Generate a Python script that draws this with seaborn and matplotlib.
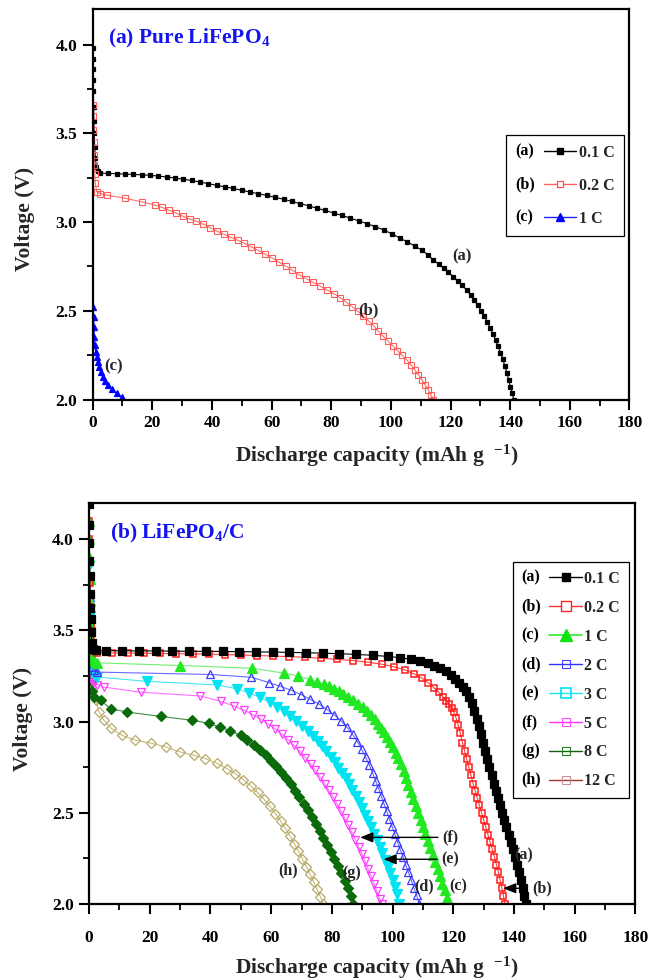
import matplotlib
matplotlib.use("Agg")
import matplotlib.pyplot as plt
import seaborn as sns
import pandas as pd
from matplotlib.ticker import MultipleLocator, FormatStrFormatter
from matplotlib.lines import Line2D
from matplotlib.legend_handler import HandlerLine2D
from matplotlib.text import Text

# ---------------- data (capacity mAh/g, voltage V) ----------------
# Panel (a): pure LiFePO4
top_01C = [(0.0, 3.98), (0.05, 3.92), (0.1, 3.86), (0.15, 3.80), (0.2, 3.74), (0.3, 3.65), (0.4, 3.57),
           (0.5, 3.50), (0.7, 3.42), (0.9, 3.36), (1.2, 3.31), (1.7, 3.285), (2.4, 3.276), (5.2, 3.274),
           (8.0, 3.272), (10.8, 3.270), (13.6, 3.268), (16.4, 3.266), (19.2, 3.263), (22.0, 3.259),
           (24.8, 3.254), (27.6, 3.248), (30.4, 3.241), (33.2, 3.234), (36.0, 3.225), (38.8, 3.216),
           (41.6, 3.207), (44.4, 3.198), (47.2, 3.189), (50.0, 3.179), (52.8, 3.169), (55.6, 3.159),
           (58.4, 3.150), (61.2, 3.139), (64.0, 3.128), (66.8, 3.116), (69.6, 3.104), (72.4, 3.091),
           (75.2, 3.078), (78.0, 3.065), (80.8, 3.051), (83.6, 3.037), (86.4, 3.022), (89.2, 3.007),
           (92.0, 2.991), (94.8, 2.974), (97.6, 2.955), (100.4, 2.933), (103.0, 2.910), (105.5, 2.888),
           (108.0, 2.866), (110.3, 2.842), (112.4, 2.816), (114.2, 2.786), (116.0, 2.763), (117.7, 2.740),
           (119.3, 2.716), (120.9, 2.692), (122.4, 2.668), (123.9, 2.643), (125.4, 2.617), (126.7, 2.590),
           (128.0, 2.560), (129.2, 2.530), (130.3, 2.500), (131.3, 2.470), (132.3, 2.438), (133.3, 2.404),
           (134.2, 2.370), (135.1, 2.335), (135.9, 2.300), (136.7, 2.265), (137.5, 2.228), (138.2, 2.190),
           (138.9, 2.150), (139.5, 2.110), (140.1, 2.070), (140.7, 2.035), (141.2, 2.0)]
top_02C = [(0.0, 3.66), (0.1, 3.60), (0.2, 3.52), (0.3, 3.45), (0.4, 3.38), (0.5, 3.32), (0.7, 3.27),
           (0.9, 3.22), (1.3, 3.171), (2.4, 3.160), (4.7, 3.152), (10.8, 3.134), (16.4, 3.114), (20.9, 3.096),
           (23.3, 3.082), (25.6, 3.067), (27.9, 3.051), (30.2, 3.033), (32.5, 3.017), (34.8, 3.004),
           (37.1, 2.988), (39.4, 2.968), (41.7, 2.948), (44.0, 2.931), (46.3, 2.914), (48.6, 2.898),
           (50.9, 2.880), (53.2, 2.860), (55.5, 2.840), (57.8, 2.820), (60.1, 2.798), (62.4, 2.775),
           (64.7, 2.752), (67.0, 2.727), (69.3, 2.703), (71.6, 2.681), (73.9, 2.660), (76.2, 2.639),
           (78.5, 2.619), (80.8, 2.597), (83.0, 2.573), (85.1, 2.548), (87.1, 2.522), (89.0, 2.496),
           (90.8, 2.470), (92.5, 2.443), (94.2, 2.415), (95.8, 2.386), (97.4, 2.357), (99.0, 2.330),
           (100.6, 2.303), (102.2, 2.276), (103.8, 2.249), (105.3, 2.223), (106.7, 2.195), (108.0, 2.167),
           (109.2, 2.140), (110.4, 2.112), (111.5, 2.083), (112.5, 2.055), (113.4, 2.027), (114.2, 2.0)]
top_1C = [(0.21, 2.523), (0.32, 2.467), (0.43, 2.410), (0.54, 2.354), (0.77, 2.307), (0.99, 2.269),
          (1.33, 2.241), (1.66, 2.213), (2.11, 2.185), (2.67, 2.157), (3.34, 2.128), (4.13, 2.106),
          (5.24, 2.082), (6.58, 2.057), (8.04, 2.035), (9.71, 2.012)]

# Panel (b): LiFePO4/C
bot_01C = [(0.0, 4.19), (0.05, 4.08), (0.1, 3.98), (0.15, 3.88), (0.2, 3.80), (0.3, 3.70), (0.4, 3.62),
           (0.5, 3.56), (0.7, 3.49), (1.0, 3.43), (1.4, 3.40), (2.2, 3.39), (5.5, 3.388), (11.0, 3.388),
           (16.5, 3.387), (22.0, 3.387), (27.5, 3.386), (33.0, 3.385), (38.5, 3.385), (44.0, 3.384),
           (49.5, 3.383), (55.0, 3.382), (60.5, 3.381), (66.0, 3.379), (71.5, 3.377), (77.0, 3.375),
           (82.5, 3.372), (88.0, 3.368), (93.5, 3.363), (98.5, 3.357), (102.5, 3.350), (106.0, 3.341),
           (109.0, 3.331), (111.5, 3.320), (113.7, 3.307), (115.7, 3.292), (117.5, 3.275), (119.1, 3.256),
           (120.6, 3.235), (121.9, 3.213), (123.1, 3.190), (124.2, 3.165), (125.2, 3.135), (126.1, 3.100),
           (126.9, 3.060), (127.7, 3.015), (128.4, 2.975), (129.1, 2.930), (129.8, 2.885), (130.5, 2.840),
           (131.2, 2.795), (131.9, 2.750), (132.6, 2.705), (133.3, 2.660), (134.0, 2.620), (134.7, 2.580),
           (135.4, 2.540), (136.1, 2.500), (136.8, 2.460), (137.5, 2.420), (138.2, 2.380), (138.9, 2.340),
           (139.6, 2.300), (140.3, 2.260), (141.0, 2.215), (141.6, 2.175), (142.2, 2.130), (142.8, 2.085),
           (143.3, 2.045), (143.8, 2.0)]
bot_02C = [(0.0, 4.19), (0.05, 4.10), (0.1, 4.00), (0.2, 3.88), (0.3, 3.76), (0.45, 3.63), (0.6, 3.53),
           (0.8, 3.46), (1.1, 3.41), (1.6, 3.385), (2.6, 3.378), (7.6, 3.376), (12.9, 3.375), (18.2, 3.374),
           (23.5, 3.373), (28.8, 3.372), (34.1, 3.371), (39.4, 3.369), (44.7, 3.367), (50.0, 3.365),
           (55.3, 3.362), (60.6, 3.359), (65.9, 3.356), (71.2, 3.352), (76.5, 3.347), (81.8, 3.341),
           (87.1, 3.334), (92.0, 3.325), (96.5, 3.314), (100.5, 3.300), (104.0, 3.283), (107.0, 3.262),
           (109.6, 3.238), (111.8, 3.212), (113.7, 3.184), (115.2, 3.160), (116.5, 3.137), (117.7, 3.115),
           (118.7, 3.095), (119.5, 3.075), (120.2, 3.050), (120.9, 3.020), (121.6, 2.980), (122.3, 2.935),
           (123.0, 2.885), (123.7, 2.840), (124.4, 2.795), (125.1, 2.750), (125.8, 2.705), (126.5, 2.660),
           (127.2, 2.620), (127.9, 2.580), (128.6, 2.540), (129.3, 2.500), (130.0, 2.460), (130.7, 2.420),
           (131.4, 2.380), (132.1, 2.340), (132.8, 2.300), (133.5, 2.260), (134.2, 2.215), (134.8, 2.175),
           (135.4, 2.130), (136.0, 2.085), (136.5, 2.045), (137.0, 2.0)]
bot_1C = [(0.0, 4.10), (0.05, 4.00), (0.1, 3.90), (0.2, 3.78), (0.3, 3.66), (0.45, 3.54), (0.6, 3.45),
          (0.8, 3.39), (1.1, 3.35), (1.6, 3.33), (2.7, 3.322), (30.1, 3.307), (53.7, 3.292), (64.1, 3.266),
          (69.0, 3.250), (72.9, 3.230), (75.2, 3.218), (77.3, 3.206), (79.0, 3.193), (80.6, 3.180),
          (82.2, 3.167), (83.8, 3.152), (85.4, 3.135), (87.1, 3.116), (88.7, 3.098), (90.2, 3.078),
          (91.6, 3.057), (92.9, 3.035), (94.1, 3.012), (95.2, 2.989), (96.2, 2.966), (97.2, 2.942),
          (98.2, 2.916), (99.2, 2.889), (100.1, 2.860), (101.0, 2.830), (101.9, 2.798), (102.8, 2.765),
          (103.6, 2.730), (104.4, 2.692), (105.2, 2.653), (106.0, 2.615), (106.8, 2.576), (107.6, 2.537),
          (108.4, 2.499), (109.2, 2.460), (110.0, 2.421), (110.8, 2.383), (111.6, 2.344), (112.4, 2.305),
          (113.2, 2.267), (114.0, 2.228), (114.8, 2.190), (115.6, 2.151), (116.4, 2.112), (117.2, 2.074),
          (118.0, 2.035), (118.7, 2.0)]
bot_2C = [(0.0, 4.00), (0.05, 3.90), (0.1, 3.80), (0.2, 3.68), (0.3, 3.57), (0.45, 3.46), (0.6, 3.38),
          (0.8, 3.33), (1.1, 3.30), (1.6, 3.285), (2.7, 3.271), (40.0, 3.258), (53.5, 3.243), (59.2, 3.214),
          (63.0, 3.193), (66.5, 3.172), (69.8, 3.148), (72.9, 3.122), (75.8, 3.095), (78.4, 3.066),
          (80.8, 3.036), (83.0, 3.004), (85.0, 2.968), (86.8, 2.930), (88.4, 2.890), (89.8, 2.848),
          (91.1, 2.805), (92.3, 2.762), (93.4, 2.719), (94.4, 2.676), (95.3, 2.635), (96.2, 2.594),
          (97.1, 2.552), (98.0, 2.510), (98.9, 2.468), (99.8, 2.426), (100.7, 2.384), (101.6, 2.342),
          (102.5, 2.300), (103.4, 2.258), (104.3, 2.216), (105.2, 2.174), (106.1, 2.132), (107.0, 2.090),
          (107.9, 2.048), (108.8, 2.0)]
bot_3C = [(0.0, 3.85), (0.05, 3.76), (0.1, 3.68), (0.2, 3.58), (0.3, 3.49), (0.45, 3.41), (0.6, 3.35),
          (0.8, 3.30), (1.1, 3.27), (1.6, 3.255), (2.7, 3.244), (19.2, 3.220), (42.2, 3.201), (48.8, 3.179),
          (52.8, 3.157), (56.4, 3.132), (59.7, 3.105), (62.0, 3.082), (64.2, 3.057), (66.3, 3.031),
          (68.3, 3.004), (70.2, 2.976), (72.0, 2.948), (73.7, 2.920), (75.3, 2.892), (76.8, 2.864),
          (78.2, 2.836), (79.6, 2.807), (80.9, 2.778), (82.1, 2.748), (83.3, 2.718), (84.5, 2.688),
          (85.6, 2.656), (86.7, 2.624), (87.8, 2.591), (88.8, 2.558), (89.8, 2.524), (90.8, 2.490),
          (91.8, 2.456), (92.8, 2.421), (93.8, 2.386), (94.8, 2.350), (95.7, 2.314), (96.6, 2.278),
          (97.5, 2.241), (98.4, 2.204), (99.2, 2.167), (100.0, 2.129), (100.7, 2.091), (101.4, 2.052),
          (102.0, 2.0)]
bot_5C = [(0.0, 3.75), (0.05, 3.66), (0.1, 3.58), (0.2, 3.48), (0.3, 3.40), (0.45, 3.33), (0.6, 3.28),
          (0.8, 3.24), (1.1, 3.22), (1.6, 3.21), (2.7, 3.203), (4.9, 3.189), (17.0, 3.161), (36.7, 3.140),
          (43.5, 3.110), (47.7, 3.085), (51.0, 3.062), (54.0, 3.038), (56.6, 3.013), (59.0, 2.988),
          (61.3, 2.961), (63.5, 2.932), (65.6, 2.901), (67.6, 2.869), (69.5, 2.836), (71.3, 2.802),
          (73.0, 2.767), (74.6, 2.732), (76.1, 2.696), (77.6, 2.660), (79.0, 2.623), (80.4, 2.586),
          (81.7, 2.548), (83.0, 2.510), (84.2, 2.471), (85.4, 2.432), (86.6, 2.393), (87.7, 2.353),
          (88.8, 2.313), (89.9, 2.273), (90.9, 2.233), (91.9, 2.192), (92.9, 2.151), (93.9, 2.110),
          (94.8, 2.069), (95.7, 2.028), (96.4, 2.0)]
bot_8C = [(0.0, 3.55), (0.1, 3.47), (0.2, 3.40), (0.35, 3.33), (0.5, 3.27), (0.7, 3.22), (1.0, 3.17),
          (1.6, 3.134), (3.8, 3.116), (7.1, 3.070), (12.6, 3.052), (23.6, 3.028), (34.0, 3.007),
          (39.4, 2.990), (43.3, 2.968), (46.6, 2.950), (49.9, 2.924), (52.1, 2.898), (54.3, 2.872),
          (56.3, 2.845), (58.2, 2.816), (60.0, 2.786), (61.7, 2.755), (63.3, 2.723), (64.9, 2.690),
          (66.4, 2.656), (67.9, 2.621), (69.3, 2.586), (70.7, 2.550), (72.1, 2.514), (73.4, 2.477),
          (74.7, 2.440), (76.0, 2.402), (77.2, 2.364), (78.4, 2.325), (79.6, 2.286), (80.8, 2.247),
          (82.0, 2.207), (83.1, 2.167), (84.2, 2.127), (85.2, 2.086), (86.2, 2.045), (87.1, 2.0)]
bot_12C = [(0.0, 3.35), (0.1, 3.30), (0.25, 3.25), (0.5, 3.21), (1.1, 3.170), (2.2, 3.116), (3.3, 3.052),
           (4.9, 3.007), (7.1, 2.966), (10.9, 2.924), (15.3, 2.897), (20.3, 2.882), (25.2, 2.861),
           (30.1, 2.833), (34.5, 2.815), (38.3, 2.797), (42.2, 2.770), (45.5, 2.742), (48.2, 2.715),
           (50.8, 2.682), (53.2, 2.648), (55.5, 2.612), (57.6, 2.574), (59.6, 2.535), (61.4, 2.495),
           (63.1, 2.455), (64.7, 2.414), (66.2, 2.373), (67.6, 2.331), (69.0, 2.289), (70.3, 2.247),
           (71.6, 2.205), (72.8, 2.163), (74.0, 2.121), (75.1, 2.080), (76.2, 2.039), (77.2, 2.0)]

top_tags = ["(a)", "(b)", "(c)"]
top_rates = ["0.1 C", "0.2 C", "1 C"]
bot_tags = ["(a)", "(b)", "(c)", "(d)", "(e)", "(f)", "(g)", "(h)"]
bot_rates = ["0.1 C", "0.2 C", "1 C", "2 C", "3 C", "5 C", "8 C", "12 C"]
x_ticks = [0, 20, 40, 60, 80, 100, 120, 140, 160, 180]
y_ticks = [2.0, 2.5, 3.0, 3.5, 4.0]

# ---------------- style ----------------
sns.set_style("ticks")
plt.rcParams.update({
    "font.family": ["Liberation Serif", "DejaVu Serif"],
    "font.weight": "bold",
    "axes.labelweight": "bold",
    "mathtext.fontset": "custom",
    "mathtext.rm": "Liberation Serif:bold",
    "mathtext.it": "Liberation Serif:italic:bold",
    "mathtext.bf": "Liberation Serif:bold",
    "mathtext.default": "rm",
    "axes.edgecolor": "black",
    "axes.linewidth": 1.6,
    "xtick.color": "black",
    "ytick.color": "black",
})
FONT = dict(family="Liberation Serif", weight="bold")


class TagHandler(HandlerLine2D):
    """Legend handle: '(x)' tag followed by the line + marker sample."""
    def __init__(self, tag, frac=0.46, **kw):
        super().__init__(**kw)
        self.tag = tag
        self.frac = frac

    def create_artists(self, legend, orig_handle, xdescent, ydescent, width, height, fontsize, trans):
        tw = width * self.frac
        arts = super().create_artists(legend, orig_handle, xdescent - tw, ydescent,
                                      width - tw, height, fontsize, trans)
        t = Text(-xdescent, (height - ydescent) / 2, self.tag, ha="left", va="center",
                 fontproperties=legend.prop, color="black", transform=trans)
        return list(arts) + [t]


def draw(ax, pts, mcolor, lcolor, marker, ms, filled, lw=0.9, mew=0.9):
    xs, ys = zip(*pts)
    df = pd.DataFrame({"cap": xs, "volt": ys})
    sns.lineplot(data=df, x="cap", y="volt", ax=ax, sort=False, estimator=None,
                 color=lcolor, lw=lw, marker=marker, markersize=ms,
                 markerfacecolor=(mcolor if filled else "none"), mec=mcolor, mew=mew,
                 legend=False)


def style_axes(ax, xpad):
    ax.set_xlim(0, 180)
    ax.set_ylim(2.0, 4.2)
    ax.set_xticks(x_ticks)
    ax.set_yticks(y_ticks)
    ax.xaxis.set_minor_locator(MultipleLocator(10))
    ax.yaxis.set_minor_locator(MultipleLocator(0.25))
    ax.yaxis.set_major_formatter(FormatStrFormatter("%.1f"))
    ax.tick_params(which="major", direction="out", length=7, width=1.5, labelsize=12.5)
    ax.tick_params(which="minor", direction="out", length=4, width=1.3)
    ax.tick_params(axis="x", which="major", pad=xpad)
    ax.tick_params(axis="y", which="major", pad=4)
    for lab in ax.get_xticklabels() + ax.get_yticklabels():
        lab.set_fontweight("bold")
    for s in ax.spines.values():
        s.set_linewidth(1.6)
        s.set_color("black")
    ax.set_xlabel("Discharge capacity (mAh g  $^{-1}$)", fontsize=15.5, **FONT)
    ax.set_ylabel("Voltage (V)", fontsize=15.5, **FONT)


fig = plt.figure(figsize=(6.54, 9.8), dpi=100)
ax1 = fig.add_axes([0.1417, 0.5923, 0.8208, 0.3985])
ax2 = fig.add_axes([0.1361, 0.0776, 0.8356, 0.4095])

# ---- panel (a) ----
draw(ax1, top_01C, "black", "black", "s", 3.5, True, lw=0.8)
draw(ax1, top_02C, "#ff5c5c", "#ff7070", "s", 3.8, False, lw=0.8, mew=0.8)
draw(ax1, top_1C, "#0000ff", "#0000ff", "^", 4.2, True, lw=0.8)
style_axes(ax1, xpad=4)
ax1.xaxis.set_label_coords(0.53, -0.11)
ax1.yaxis.set_label_coords(-0.1075, 0.462)
ax1.text(0.029, 0.925, r"(a) Pure LiFePO$_4$", transform=ax1.transAxes, color="#1414f0",
         fontsize=15.5, ha="left", va="center", **FONT)
for txt, xx, yy in [("(a)", 123.7, 2.805), ("(b)", 92.4, 2.504), ("(c)", 6.9, 2.185)]:
    ax1.text(xx, yy, txt, ha="center", va="center", fontsize=12, **FONT)

h_top = [Line2D([], [], color="black", marker="s", ms=4, lw=1.0, mfc="black", mec="black"),
         Line2D([], [], color="#ff6060", marker="s", ms=5, lw=1.0, mfc="white", mec="#ff5050", mew=0.9),
         Line2D([], [], color="#2020ff", marker="^", ms=6, lw=1.0, mfc="#0000ff", mec="#0000ff")]
leg1 = ax1.legend(h_top, top_rates, handler_map={h: TagHandler(t) for h, t in zip(h_top, top_tags)},
                  loc="upper right", bbox_to_anchor=(0.990, 0.677), borderaxespad=0,
                  frameon=True, fancybox=False, edgecolor="black", framealpha=1,
                  handlelength=3.8, handletextpad=0.15, labelspacing=1.06, borderpad=0.6,
                  prop=dict(family="Liberation Serif", weight="bold", size=11.5))
leg1.get_frame().set_linewidth(0.9)

# ---- panel (b) ----
draw(ax2, bot_12C, "#b5aa66", "#c4bb80", "D", 4.8, False, lw=0.8, mew=0.9)
draw(ax2, bot_8C, "#0b6b0b", "#3f8f3f", "D", 4.8, True, lw=0.8)
draw(ax2, bot_5C, "#ff3cff", "#ff70ff", "v", 5.8, False, lw=0.8, mew=0.9)
draw(ax2, bot_3C, "#00e3f0", "#40e6f0", "v", 6.6, True, lw=0.8)
draw(ax2, bot_2C, "#3838ff", "#6a6aff", "^", 5.8, False, lw=0.8, mew=0.9)
draw(ax2, bot_1C, "#22e822", "#70ee70", "^", 6.8, True, lw=0.8)
draw(ax2, bot_02C, "#ff1a1a", "#ff4040", "s", 5.0, False, lw=0.8, mew=1.1)
draw(ax2, bot_01C, "black", "black", "s", 5.3, True, lw=0.8)
style_axes(ax2, xpad=12)
ax2.xaxis.set_label_coords(0.527, -0.127)
ax2.yaxis.set_label_coords(-0.102, 0.46)
ax2.text(0.038, 0.924, r"(b) LiFePO$_4$/C", transform=ax2.transAxes, color="#1414f0",
         fontsize=15.5, ha="left", va="center", **FONT)
for txt, xx, yy in [("(h)", 65.5, 2.186), ("(g)", 86.6, 2.168), ("(d)", 110.4, 2.095),
                    ("(c)", 121.7, 2.095), ("(a)", 143.1, 2.268)]:
    ax2.text(xx, yy, txt, ha="center", va="center", fontsize=11.5, **FONT)
arrow_kw = dict(arrowstyle="-|>,head_length=0.55,head_width=0.22", color="black", lw=1.0,
                mutation_scale=14, shrinkA=1, shrinkB=0)
for txt, tx, tip, yy in [("(f)", 119.1, 89.3, 2.365), ("(e)", 119.1, 97.0, 2.245), ("(b)", 149.1, 136.4, 2.086)]:
    ax2.annotate(txt, xy=(tip, yy), xytext=(tx, yy), ha="center", va="center", fontsize=11.5,
                 arrowprops=arrow_kw, **FONT)

h_bot = [Line2D([], [], color="black", marker="s", ms=6, lw=1.0, mfc="black", mec="black"),
         Line2D([], [], color="#ff3030", marker="s", ms=6.5, lw=1.0, mfc="white", mec="#ff2020", mew=1.0),
         Line2D([], [], color="#30e830", marker="^", ms=8, lw=1.2, mfc="#10e010", mec="#10e010"),
         Line2D([], [], color="#3030ff", marker="s", ms=5.5, lw=1.0, mfc="none", mec="#4040ff", mew=0.8),
         Line2D([], [], color="#20e8f0", marker="s", ms=7, lw=1.0, mfc="none", mec="#00e0f0", mew=1.2),
         Line2D([], [], color="#ff30ff", marker="s", ms=5.5, lw=1.0, mfc="none", mec="#ff50ff", mew=0.8),
         Line2D([], [], color="#106010", marker="s", ms=5.5, lw=1.0, mfc="none", mec="#208020", mew=0.8),
         Line2D([], [], color="#a03535", marker="s", ms=5.5, lw=1.0, mfc="none", mec="#c89090", mew=0.8)]
leg2 = ax2.legend(h_bot, bot_rates, handler_map={h: TagHandler(t) for h, t in zip(h_bot, bot_tags)},
                  loc="upper right", bbox_to_anchor=(0.988, 0.852), borderaxespad=0,
                  frameon=True, fancybox=False, edgecolor="black", framealpha=1,
                  handlelength=3.8, handletextpad=0.15, labelspacing=0.81, borderpad=0.55,
                  prop=dict(family="Liberation Serif", weight="bold", size=11.5))
leg2.get_frame().set_linewidth(0.9)

fig.savefig("out.png", dpi=100)
